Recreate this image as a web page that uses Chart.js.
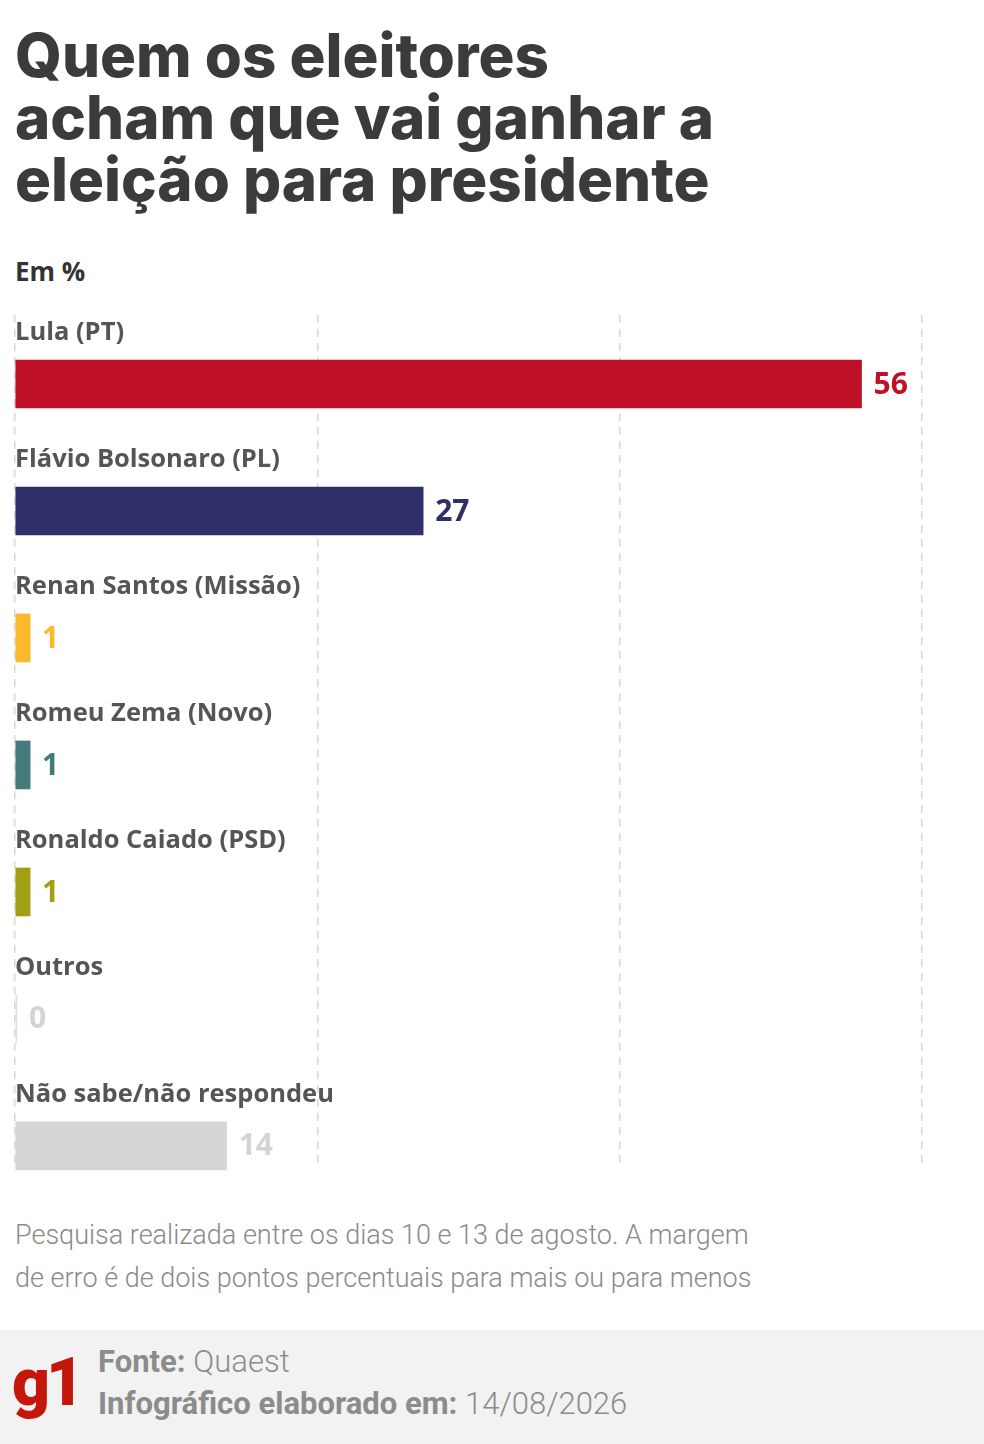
<!DOCTYPE html>
<html lang="pt-BR">
<head>
<meta charset="utf-8">
<title>Quem os eleitores acham que vai ganhar a eleição para presidente</title>
<script src="https://cdn.jsdelivr.net/npm/chart.js@4.4.1/dist/chart.umd.min.js"></script>
<style>
  html, body { margin: 0; padding: 0; background: #fff; }
  body { width: 984px; height: 1444px; position: relative; overflow: hidden; font-family: "Open Sans", sans-serif; }
  #title {
    position: absolute; left: 15px; top: 24px; margin: 0;
    font-family: Inter, sans-serif; font-weight: 800; font-size: 60px; line-height: 62px;
    color: #3b3b3b; letter-spacing: 0;
  }
  #unit {
    position: absolute; left: 15px; top: 253px;
    font-family: "Open Sans", sans-serif; font-weight: 700; font-size: 26px; color: #333;
  }
  #chart-wrap { position: absolute; left: 0; top: 300px; width: 984px; height: 900px; }
  #note {
    position: absolute; left: 15px; top: 1214px; width: 900px;
    font-family: Roboto, sans-serif; font-weight: 300; font-size: 27px; line-height: 43px; color: #8a8a8a;
  }
  #footer { position: absolute; left: 0; top: 1330px; width: 984px; height: 114px; background: #f2f2f2; }
  #logo {
    position: absolute; left: 12px; top: 20px;
    font-family: Roboto, sans-serif; font-weight: 900; font-size: 66px; line-height: 66px; color: #c4170c; letter-spacing: -4px;
  }
  .src { position: absolute; left: 98px; font-family: Roboto, sans-serif; font-size: 31px; color: #8c8c8c; }
  .src b { font-weight: 700; }
  .src span { font-weight: 300; }
</style>
</head>
<body>
<h1 id="title">Quem os eleitores<br>acham que vai ganhar a<br>eleição para presidente</h1>
<div id="unit">Em %</div>
<div id="chart-wrap"><canvas id="chart" width="984" height="900"></canvas></div>
<div id="note">Pesquisa realizada entre os dias 10 e 13 de agosto. A margem<br>de erro é de dois pontos percentuais para mais ou para menos</div>
<div id="footer">
  <div id="logo">g1</div>
  <div class="src" style="top: 13px;"><b>Fonte:</b> <span>Quaest</span></div>
  <div class="src" style="top: 55px;"><b>Infográfico elaborado em:</b> <span>14/08/2026</span></div>
</div>
<script>
// dados
const categories = [
  'Lula (PT)',
  'Flávio Bolsonaro (PL)',
  'Renan Santos (Missão)',
  'Romeu Zema (Novo)',
  'Ronaldo Caiado (PSD)',
  'Outros',
  'Não sabe/não respondeu'
];
const values = [56, 27, 1, 1, 1, 0, 14];
const barColors = ['#be1128', '#2f3069', '#fbba2c', '#437a7b', '#a2a012', '#e2e2e2', '#d6d6d6'];
const valueColors = ['#be1128', '#2f3069', '#fbba2c', '#437a7b', '#a2a012', '#d4d4d4', '#d4d4d4'];
const xTicks = [0, 20, 40, 60];

const labelPlugin = {
  id: 'barLabels',
  afterDatasetsDraw(chart) {
    const ctx = chart.ctx;
    const meta = chart.getDatasetMeta(0);
    const x0 = chart.scales.x.getPixelForValue(0);
    ctx.save();
    ctx.textBaseline = 'middle';
    ctx.textAlign = 'left';
    meta.data.forEach((bar, i) => {
      // nome do candidato acima da barra
      ctx.font = '700 25.5px "Open Sans", sans-serif';
      ctx.fillStyle = '#555555';
      ctx.fillText(categories[i], x0, bar.y - 51);
      // valor ao fim da barra
      ctx.font = '700 30px "Open Sans", sans-serif';
      ctx.fillStyle = valueColors[i];
      ctx.fillText(String(values[i]), bar.x + 12, bar.y + 1);
    });
    ctx.restore();
  }
};

new Chart(document.getElementById('chart'), {
  type: 'bar',
  data: {
    datasets: [{
      data: values.map((v, i) => ({ x: v, y: i })),
      backgroundColor: barColors,
      borderWidth: 0,
      barThickness: 48,
      minBarLength: 2,
      clip: false
    }]
  },
  options: {
    indexAxis: 'y',
    responsive: false,
    animation: false,
    layout: { padding: { left: 15, right: 62, top: 15, bottom: 35 } },
    plugins: { legend: { display: false }, tooltip: { enabled: false } },
    scales: {
      x: {
        type: 'linear',
        min: 0,
        max: 60,
        afterBuildTicks: (axis) => { axis.ticks = xTicks.map(v => ({ value: v })); },
        ticks: { display: false },
        grid: { color: '#d9d9d9', lineWidth: 1.5, drawTicks: false, tickLength: 0 },
        border: { display: false, dash: [8, 6] }
      },
      y: {
        type: 'linear',
        reverse: true,
        offset: false,
        grid: { offset: false, display: false },
        bounds: 'data',
        display: false,
        afterDataLimits: (axis) => { axis.min = -0.543; axis.max = 6.15; },
        afterBuildTicks: (axis) => { axis.min = -0.543; axis.max = 6.15; }
      }
    }
  },
  plugins: [labelPlugin]
});
</script>
</body>
</html>
